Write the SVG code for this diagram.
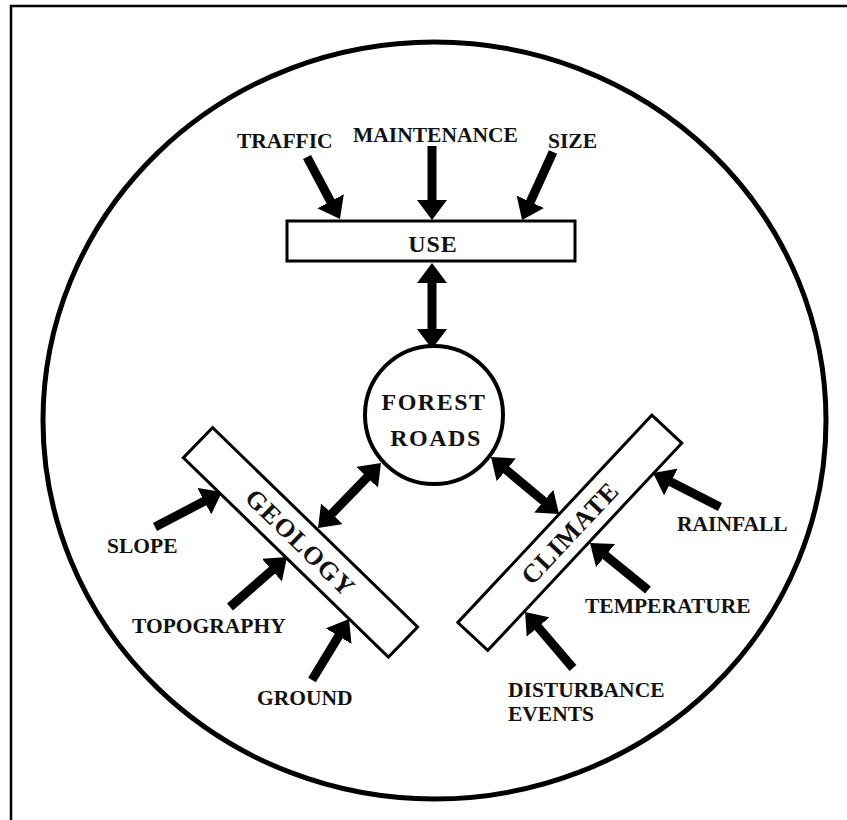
<svg xmlns="http://www.w3.org/2000/svg" width="847" height="820" viewBox="0 0 847 820">
<style>
  .lbl { font-family: "Liberation Serif", "Times New Roman", serif; font-weight: bold; font-size: 21.5px; fill: #111; }
  .big { font-family: "Liberation Serif", "Times New Roman", serif; font-weight: bold; fill: #111; text-anchor: middle; }
  .box { fill: #fff; stroke: #000; stroke-width: 3; }
  .arr { stroke: #000; stroke-width: 9; fill: none; marker-end: url(#ah); }
  .dbl { stroke: #000; stroke-width: 9; fill: none; marker-end: url(#ah); marker-start: url(#ah); }
</style>
<defs>
  <marker id="ah" markerUnits="userSpaceOnUse" viewBox="0 0 20 30" markerWidth="20" markerHeight="30" refX="2" refY="15" orient="auto-start-reverse">
    <path d="M0,0 L20,15 L0,30 z" fill="#000"/>
  </marker>
</defs>
<rect width="847" height="820" fill="#fff"/>
<g id="frame">
  <path d="M11,830 L11,6 L860,6" fill="none" stroke="#000" stroke-width="2.5"/>
</g>
<g id="outer-circle">
  <ellipse cx="434.5" cy="420.5" rx="391.5" ry="378.5" fill="none" stroke="#000" stroke-width="5"/>
</g>

<g id="connectors">
  <line class="arr" x1="307" y1="157" x2="331.5" y2="203.1"/>
  <line class="arr" x1="432" y1="146" x2="432" y2="202"/>
  <line class="arr" x1="553" y1="152" x2="529.5" y2="203.6"/>
  <line class="dbl" x1="432" y1="281" x2="432" y2="331"/>
  <line class="dbl" x1="330.5" y1="515.1" x2="368.5" y2="475.9"/>
  <line class="dbl" x1="504.8" y1="468.6" x2="545.2" y2="502.4"/>
  <line class="arr" x1="155" y1="527" x2="206" y2="500.3"/>
  <line class="arr" x1="230" y1="607" x2="273.5" y2="568.9"/>
  <line class="arr" x1="312" y1="680" x2="339.7" y2="634.4"/>
  <line class="arr" x1="720" y1="507" x2="669.1" y2="481.1"/>
  <line class="arr" x1="648" y1="590" x2="604" y2="554.3"/>
  <line class="arr" x1="573" y1="668" x2="536.8" y2="625.6"/>
</g>

<g id="use">
  <rect class="box" x="287" y="221" width="288" height="40"/>
  <text class="big" x="433" y="252" font-size="24" letter-spacing="1">USE</text>
</g>
<g id="forest-roads">
  <circle cx="434" cy="415" r="69" fill="#fff" stroke="#000" stroke-width="4"/>
  <text class="big" x="434" y="410" font-size="24" letter-spacing="1.5">FOREST</text>
  <text class="big" x="436" y="446" font-size="24" letter-spacing="1.5">ROADS</text>
</g>
<g id="geology" transform="translate(300.5,542.3) rotate(44.2)">
  <rect class="box" x="-143" y="-21" width="286" height="42"/>
  <text class="big" x="0" y="9" font-size="26" letter-spacing="1">GEOLOGY</text>
</g>
<g id="climate" transform="translate(569.8,532.8) rotate(-46.9)">
  <rect class="box" x="-142" y="-20.5" width="284" height="41"/>
  <text class="big" x="0" y="9" font-size="26" letter-spacing="1">CLIMATE</text>
</g>

<g id="traffic"><text class="lbl" x="237" y="148">TRAFFIC</text></g>
<g id="maintenance"><text class="lbl" x="353" y="142">MAINTENANCE</text></g>
<g id="size"><text class="lbl" x="548" y="148">SIZE</text></g>
<g id="slope"><text class="lbl" x="107" y="553">SLOPE</text></g>
<g id="topography"><text class="lbl" x="132" y="633">TOPOGRAPHY</text></g>
<g id="ground"><text class="lbl" x="257" y="705">GROUND</text></g>
<g id="rainfall"><text class="lbl" x="677" y="531">RAINFALL</text></g>
<g id="temperature"><text class="lbl" x="585" y="613">TEMPERATURE</text></g>
<g id="disturbance-events">
  <text class="lbl" x="508" y="697">DISTURBANCE</text>
  <text class="lbl" x="508" y="721">EVENTS</text>
</g>
</svg>
